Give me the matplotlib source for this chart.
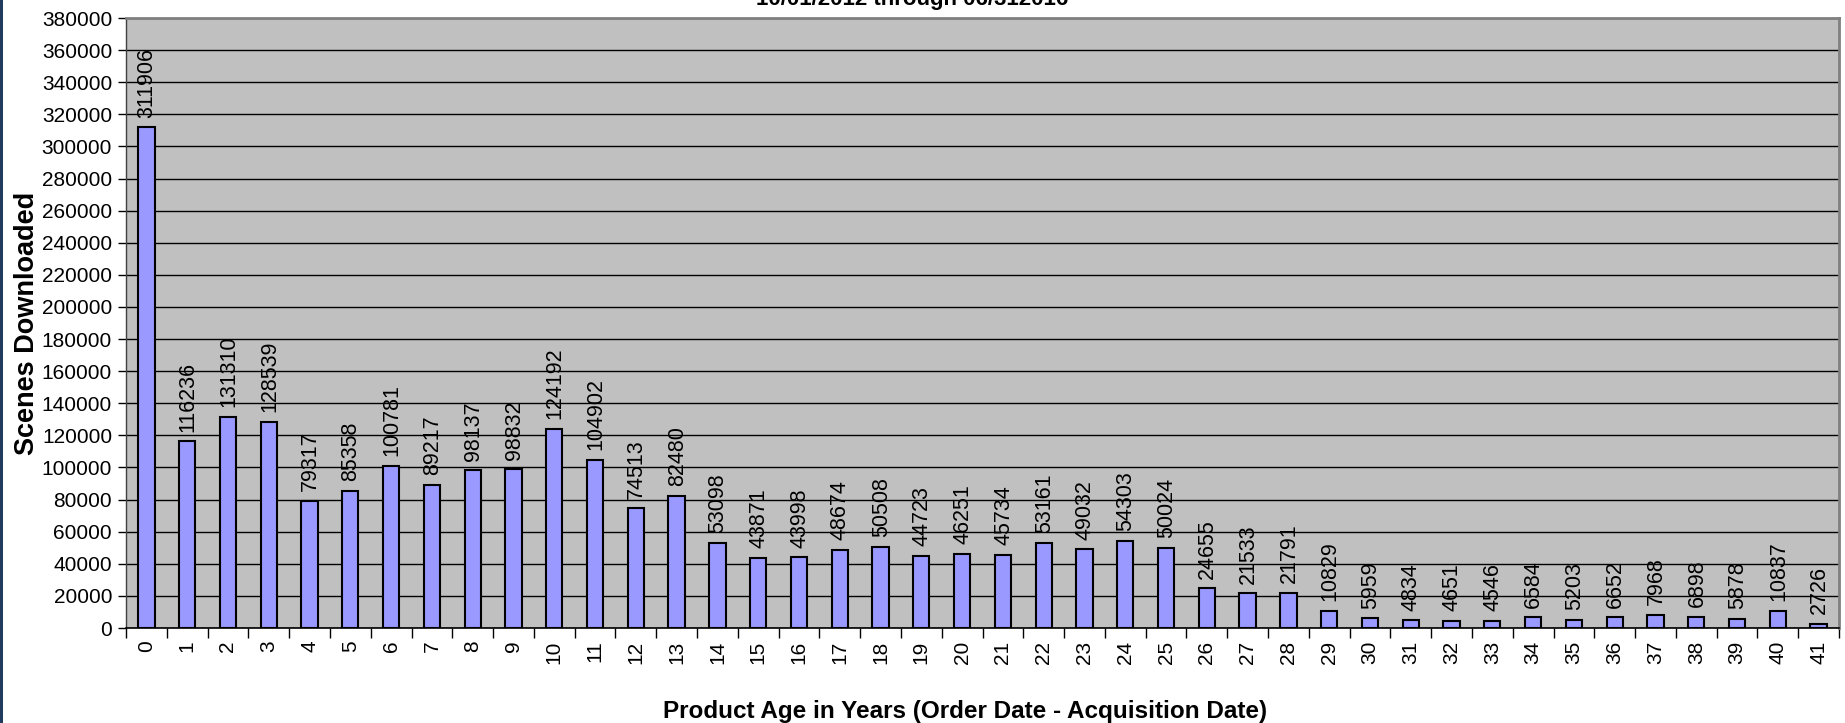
import matplotlib
matplotlib.use("Agg")
import matplotlib.pyplot as plt
from matplotlib.patches import Rectangle
import numpy as np

plt.rcParams['font.family'] = ['Liberation Sans', 'DejaVu Sans']

ages = list(range(42))
scenes = [311906, 116236, 131310, 128539, 79317, 85358, 100781, 89217, 98137, 98832,
          124192, 104902, 74513, 82480, 53098, 43871, 43998, 48674, 50508, 44723,
          46251, 45734, 53161, 49032, 54303, 50024, 24655, 21533, 21791, 10829,
          5959, 4834, 4651, 4546, 6584, 5203, 6652, 7968, 6898, 5878,
          10837, 2726]
yticks = list(range(0, 380001, 20000))

W, H = 1845, 723
fig = plt.figure(figsize=(W/100, H/100), dpi=100)
fig.patch.set_facecolor('white')
# dark strip at left edge
fig.patches.append(Rectangle((0, 0), 3/W, 1, transform=fig.transFigure,
                             facecolor='#1f3a5c', edgecolor='none'))

left, right, bottom, top = 126/W, 1839/W, 1-628/H, 1-18/H
ax = fig.add_axes([left, bottom, right-left, top-bottom])
ax.set_facecolor('#C0C0C0')

x = np.arange(len(ages))
ax.bar(x, scenes, width=0.4, color='#9999FF', edgecolor='black', linewidth=1.5, zorder=3)

for xi, v in zip(x, scenes):
    ax.annotate(str(v), (xi, v), xytext=(0.5, 7), textcoords='offset points',
                rotation=90, ha='center', va='bottom', fontsize=15.5, color='black', zorder=4)

ax.set_xlim(-0.5, len(ages)-0.5)
ax.set_ylim(0, 380000)
ax.set_yticks(yticks)
ax.set_yticklabels([str(t) for t in yticks], fontsize=15)
ax.yaxis.grid(True, color='black', linewidth=1.0, zorder=1)
ax.set_axisbelow(True)

ax.set_xticks(x)
ax.set_xticklabels([str(a) for a in ages], rotation=90, fontsize=15)
ax.set_xticks(np.arange(-0.5, len(ages), 1.0), minor=True)
ax.tick_params(axis='x', which='major', length=0, pad=9)
ax.tick_params(axis='x', which='minor', length=7, width=1, color='black', direction='out')
ax.tick_params(axis='y', length=6, width=1, color='black', direction='out', pad=4)

for s in ['top', 'right']:
    ax.spines[s].set_color('#808080')
    ax.spines[s].set_linewidth(2)
ax.spines['left'].set_color('#404040')
ax.spines['left'].set_linewidth(1)
ax.spines['bottom'].set_color('black')
ax.spines['bottom'].set_linewidth(1.2)

ax.set_ylabel('Scenes Downloaded', fontsize=19.5, fontweight='bold', labelpad=1)
ax.set_xlabel('Product Age in Years (Order Date - Acquisition Date)', fontsize=17.5,
              fontweight='bold', labelpad=26)
ax.xaxis.set_label_coords(0.490, -0.118)
ax.xaxis.label.set_va('top')

fig.text(912/W, 1.0, '10/01/2012 through 06/312016', ha='center', va='center',
         fontsize=16, fontweight='bold')

fig.savefig('out.png', dpi=100)
